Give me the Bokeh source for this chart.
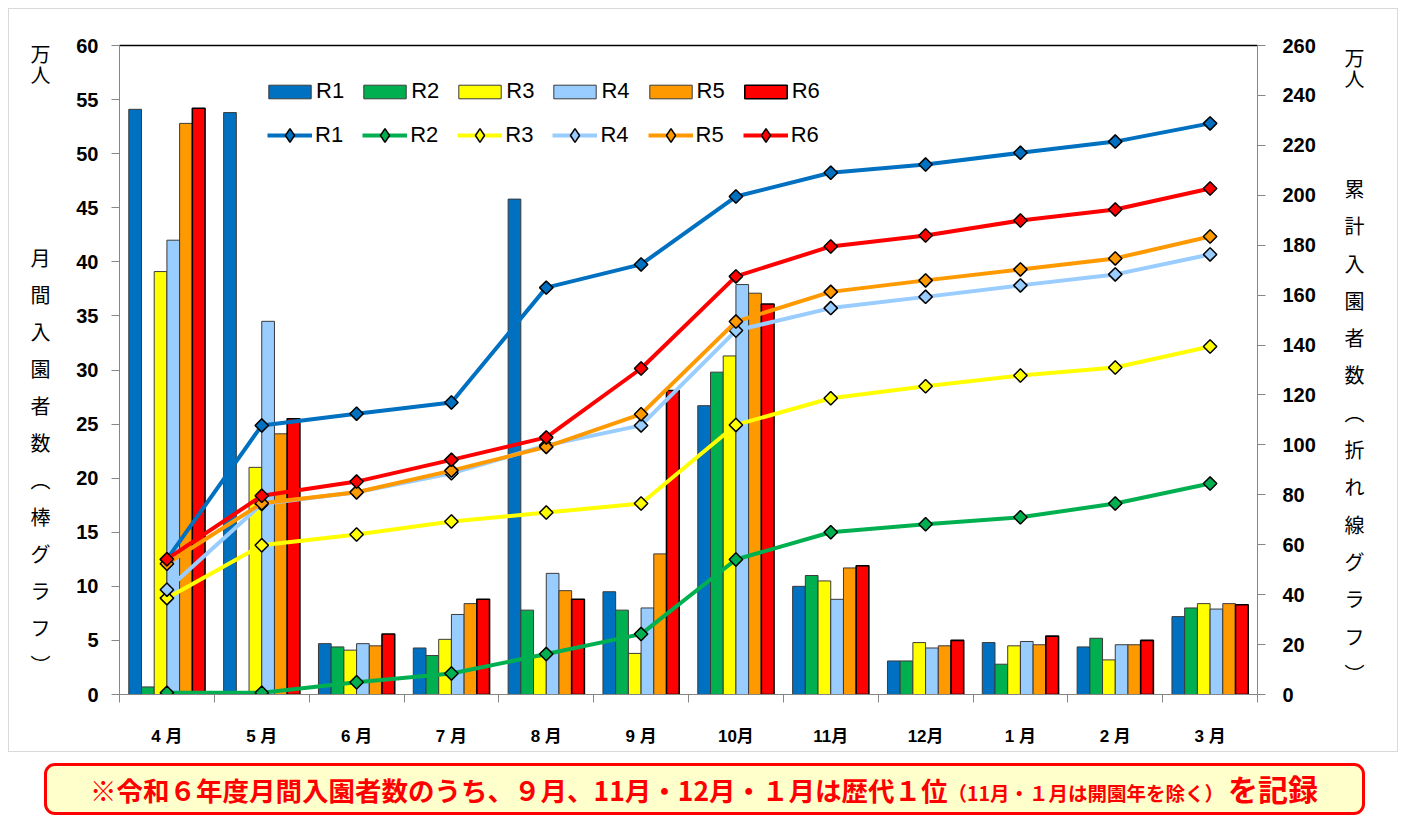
import numpy as np
from bokeh.plotting import figure
from bokeh.models import (Range1d, LinearAxis, FixedTicker, Legend, LegendItem, Div)
from bokeh.layouts import column
from bokeh.embed import file_html
from bokeh.resources import INLINE

# ---------------- data ----------------
months = ["4 月", "5 月", "6 月", "7 月", "8 月", "9 月", "10月", "11月", "12月", "1 月", "2 月", "3 月"]
series = ["R1", "R2", "R3", "R4", "R5", "R6"]

# monthly visitors (万人) - bars, left axis
m_R1 = [54.1, 53.8, 4.7, 4.3, 45.8, 9.5, 26.7, 10.0, 3.1, 4.8, 4.4, 7.2]
m_R2 = [0.7, 0.0, 4.4, 3.6, 7.8, 7.8, 29.8, 11.0, 3.1, 2.8, 5.2, 8.0]
m_R3 = [39.1, 21.0, 4.1, 5.1, 3.5, 3.8, 31.3, 10.5, 4.8, 4.5, 3.2, 8.4]
m_R4 = [42.0, 34.5, 4.7, 7.4, 11.2, 8.0, 37.9, 8.8, 4.3, 4.9, 4.6, 7.9]
m_R5 = [52.8, 24.1, 4.5, 8.4, 9.6, 13.0, 37.1, 11.7, 4.5, 4.6, 4.6, 8.4]
m_R6 = [54.2, 25.5, 5.6, 8.8, 8.8, 28.1, 36.1, 11.9, 5.0, 5.4, 5.0, 8.3]

# cumulative visitors (万人) - lines, right axis
c_R1 = [54.1, 107.8, 112.5, 117.0, 163.0, 172.3, 199.5, 209.0, 212.3, 217.0, 221.5, 228.8]
c_R2 = [0.7, 0.7, 4.9, 8.4, 16.2, 24.2, 54.1, 65.0, 68.2, 71.0, 76.5, 84.5]
c_R3 = [38.6, 59.8, 64.1, 69.3, 72.9, 76.5, 108.0, 118.7, 123.5, 127.8, 131.0, 139.4]
c_R4 = [42.0, 76.3, 81.0, 88.6, 99.8, 107.8, 145.8, 154.8, 159.3, 163.9, 168.3, 176.3]
c_R5 = [52.4, 76.6, 81.0, 89.7, 99.2, 112.3, 149.4, 161.3, 165.9, 170.3, 174.7, 183.5]
c_R6 = [54.2, 79.6, 85.3, 94.0, 103.0, 130.6, 167.5, 179.5, 183.9, 189.9, 194.3, 202.7]

left_ticks = list(range(0, 61, 5))
right_ticks = list(range(0, 261, 20))

left_title = ["月", "間", "入", "園", "者", "数", "︵", "棒", "グ", "ラ", "フ", "︶"]
right_title = ["累", "計", "入", "園", "者", "数", "︵", "折", "れ", "線", "グ", "ラ", "フ", "︶"]
unit = ["万", "人"]

note_main = "※令和６年度月間入園者数のうち、９月、11月・12月・１月は歴代１位"
note_small = "（11月・１月は開園年を除く）"
note_end = "を記録"

monthly = [m_R1, m_R2, m_R3, m_R4, m_R5, m_R6]
cumul = [c_R1, c_R2, c_R3, c_R4, c_R5, c_R6]
colors = ["#0070C0", "#00B050", "#FFFF00", "#99CCFF", "#FF9900", "#FF0000"]
bar_lines = ["#3A3A3A", "#3A3A3A", "#3A3A3A", "#3A3A3A", "#3A3A3A", "#000000"]
bar_lw = [1, 1, 1, 1, 1, 1.6]

NUM_FONT = "Liberation Sans"
CJK_FONT = "Noto Sans CJK JP"
GRAY = "#868686"

# ---------------- figure ----------------
p = figure(width=1390, height=744, x_range=Range1d(0, 12), y_range=Range1d(0, 60),
           output_backend="svg", toolbar_location=None,
           min_border_left=110, min_border_right=142, min_border_top=36, min_border_bottom=59)
p.extra_y_ranges = {"cum": Range1d(0, 260)}
p.xgrid.visible = False
p.ygrid.visible = False
p.outline_line_color = None
p.background_fill_color = "white"
p.border_fill_color = "white"
p.styles = {"border": "1px solid #D9D9D9"}

# x axis: labels at category centers, boundary ticks as minor ticks
xa = p.xaxis[0]
xa.ticker = FixedTicker(ticks=[i + 0.5 for i in range(len(months))],
                        minor_ticks=list(range(len(months) + 1)))
xa.major_label_overrides = {i + 0.5: m for i, m in enumerate(months)}
xa.major_tick_out = 0
xa.major_tick_in = 0
xa.minor_tick_out = 8
xa.minor_tick_in = 0
xa.minor_tick_line_color = GRAY
xa.axis_line_color = GRAY
xa.major_label_standoff = 24
xa.major_label_text_font = "'Liberation Sans', 'Noto Sans CJK JP'"
xa.major_label_text_font_style = "bold"
xa.major_label_text_font_size = "17px"
xa.major_label_text_color = "black"

# left axis
ya = p.yaxis[0]
ya.ticker = FixedTicker(ticks=left_ticks)
ya.major_tick_out = 8
ya.major_tick_in = 0
ya.minor_tick_line_color = None
ya.major_tick_line_color = GRAY
ya.axis_line_color = GRAY
ya.major_label_standoff = 13
ya.major_label_text_font = NUM_FONT
ya.major_label_text_font_style = "bold"
ya.major_label_text_font_size = "20px"
ya.major_label_text_color = "black"

# right axis
ra = LinearAxis(y_range_name="cum", ticker=FixedTicker(ticks=right_ticks))
ra.major_tick_out = 8
ra.major_tick_in = 0
ra.minor_tick_line_color = None
ra.major_tick_line_color = GRAY
ra.axis_line_color = GRAY
ra.major_label_standoff = 17
ra.major_label_text_font = NUM_FONT
ra.major_label_text_font_style = "bold"
ra.major_label_text_font_size = "20px"
ra.major_label_text_color = "black"
p.add_layout(ra, "right")

# top frame line
ta = LinearAxis(ticker=FixedTicker(ticks=[]))
ta.major_label_text_font_size = "0px"
ta.major_tick_line_color = None
ta.minor_tick_line_color = None
ta.axis_line_color = "black"
ta.axis_line_width = 1.5
p.add_layout(ta, "above")

# ---------------- vertical titles as tick labels of outer axes ----------------
FB = 693          # frame bottom (page px)
PX_L = 649 / 60   # px per unit, left range
PX_R = 649 / 260  # px per unit, right range


def title_axis(chars_and_py, px_per_unit, range_name, standoff):
    ticks, over = [], {}
    for ch, py in chars_and_py:
        t = round((FB - py) / px_per_unit, 3)
        ticks.append(t)
        over[t] = ch
    kw = {} if range_name is None else {"y_range_name": range_name}
    ax = LinearAxis(ticker=FixedTicker(ticks=ticks), **kw)
    ax.major_label_overrides = over
    ax.major_tick_line_color = None
    ax.minor_tick_line_color = None
    ax.axis_line_color = None
    ax.major_label_standoff = standoff
    ax.major_label_text_font = CJK_FONT
    ax.major_label_text_font_size = "20px"
    ax.major_label_text_color = "black"
    return ax


left_chars = [(ch, 52 + j * 21) for j, ch in enumerate(unit)] + \
             [(ch, 256 + j * 37) for j, ch in enumerate(left_title)]
right_chars = [(ch, 56 + j * 21) for j, ch in enumerate(unit)] + \
              [(ch, 187 + j * 37.3) for j, ch in enumerate(right_title)]
p.add_layout(title_axis(left_chars, PX_L, None, 17), "left")
p.add_layout(title_axis(right_chars, PX_R, "cum", 20), "right")

# ---------------- bars ----------------
bw = 0.134
bar_rs = []
for k, s in enumerate(series):
    xs = [i + 0.5 + (k - 2.5) * bw for i in range(len(months))]
    r = p.vbar(x=xs, top=monthly[k], bottom=0, width=bw, fill_color=colors[k],
               line_color=bar_lines[k], line_width=bar_lw[k])
    bar_rs.append(r)

# ---------------- lines ----------------
line_items = []
for k, s in enumerate(series):
    xs = [i + 0.5 for i in range(len(months))]
    lr = p.line(x=xs, y=cumul[k], y_range_name="cum", line_color=colors[k], line_width=4)
    p.scatter(x=xs, y=cumul[k], y_range_name="cum", marker="square", angle=np.pi / 4,
              size=9.5, fill_color=colors[k], line_color="black", line_width=1.5)
    # legend proxy: diamond drawn only in the legend (size 0 in the plot)
    proxy = p.scatter(x=xs, y=cumul[k], y_range_name="cum", marker="diamond", size=0,
                      fill_color=colors[k], line_color="black", line_width=1.5)
    line_items.append(LegendItem(label=s, renderers=[lr, proxy]))

leg1 = Legend(items=[LegendItem(label=s, renderers=[bar_rs[k]]) for k, s in enumerate(series)],
              orientation="horizontal", location=(144, 590),
              glyph_width=53, glyph_height=17, label_standoff=0, spacing=14,
              padding=0, margin=0, border_line_color=None, background_fill_alpha=0,
              label_text_font=NUM_FONT, label_text_font_size="22px", label_text_color="black",
              label_height=17)
leg2 = Legend(items=line_items,
              orientation="horizontal", location=(148, 542),
              glyph_width=45, glyph_height=34, label_standoff=3, spacing=19,
              padding=0, margin=0, border_line_color=None, background_fill_alpha=0,
              label_text_font=NUM_FONT, label_text_font_size="22px", label_text_color="black",
              label_height=34)
p.add_layout(leg1)
p.add_layout(leg2)

# ---------------- note banner ----------------
html = (
    '<div style="box-sizing:border-box;width:1321px;height:52px;border:3px solid #FF0000;'
    'border-radius:11px;background:#FFFFCC;color:#FF0000;font-family:\'Noto Sans CJK JP\';'
    'font-weight:bold;font-size:26.5px;line-height:44px;padding-left:43px;white-space:nowrap;">'
    + note_main + '<span style="font-size:19.5px;">' + note_small + '</span>'
    + '<span style="font-size:30px;margin-left:4px;">' + note_end + '</span></div>'
)
note = Div(text=html, width=1321, height=52, margin=(11, 0, 0, 44))
p.margin = (8, 0, 0, 8)

layout = column(p, note, spacing=0)
open("out.html", "w").write(file_html(layout, INLINE))
